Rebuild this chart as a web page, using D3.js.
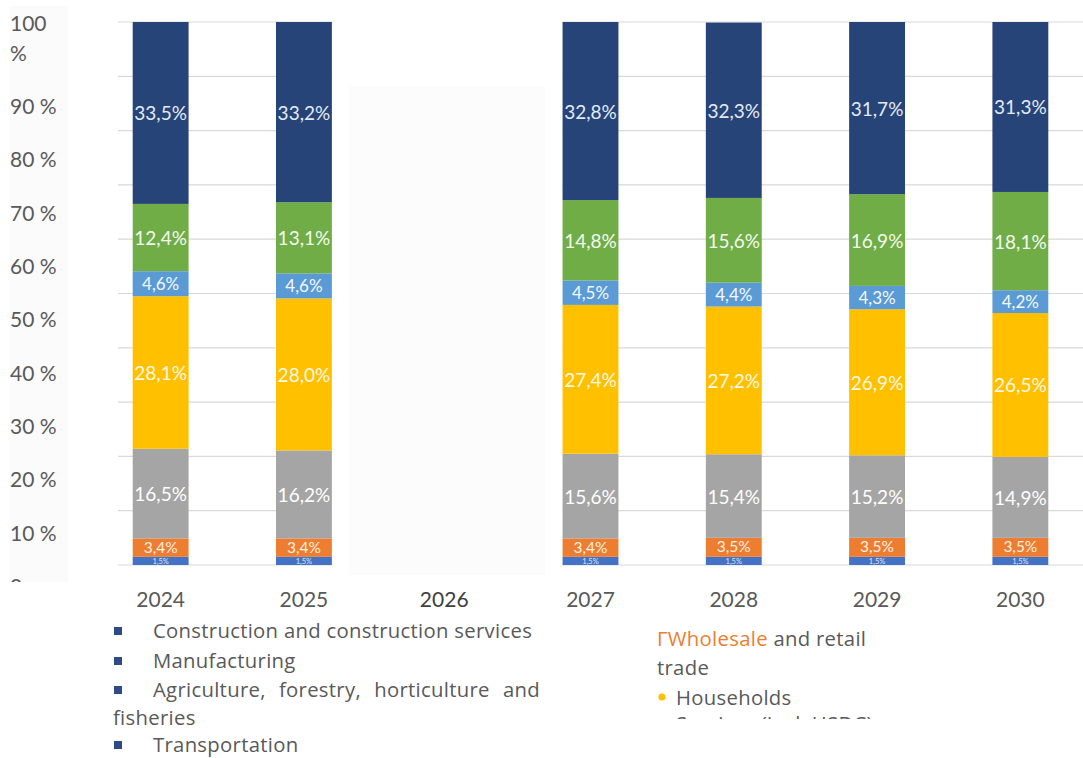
<!DOCTYPE html>
<html>
<head>
<meta charset="utf-8">
<script src="https://cdn.jsdelivr.net/npm/d3@7"></script>
<style>
  html, body { margin: 0; padding: 0; background: #ffffff; }
  svg { display: block; }
</style>
</head>
<body>
<svg id="chart" width="1083" height="758"></svg>
<script>
// Years on the category axis; 2026 is kept as an empty slot
const years = ["2024", "2025", "2026", "2027", "2028", "2029", "2030"];
const shownYears = ["2024", "2025", "2027", "2028", "2029", "2030"];

// Share of each sector per year (%), stacked bottom to top
const construction   = [1.5, 1.5, 1.5, 1.5, 1.5, 1.5];
const manufacturing  = [3.4, 3.4, 3.4, 3.5, 3.5, 3.5];
const agriculture    = [16.5, 16.2, 15.6, 15.4, 15.2, 14.9];
const transportation = [28.1, 28.0, 27.4, 27.2, 26.9, 26.5];
const wholesale      = [4.6, 4.6, 4.5, 4.4, 4.3, 4.2];
const households     = [12.4, 13.1, 14.8, 15.6, 16.9, 18.1];
const services       = [33.5, 33.2, 32.8, 32.3, 31.7, 31.3];

const yTicks = [0, 10, 20, 30, 40, 50, 60, 70, 80, 90, 100];

const seriesNames = ["construction", "manufacturing", "agriculture", "transportation",
                     "wholesale", "households", "services"];
const seriesValues = [construction, manufacturing, agriculture, transportation,
                      wholesale, households, services];
const seriesColors = ["#4472c4", "#ed7d31", "#a5a5a5", "#ffc000", "#5b9bd5", "#70ad47", "#264478"];
const labelColors  = ["#dce6f7", "#fff1e0", "#ffffff", "#fff8e6", "#f4f8fc", "#f4faf0", "#e4ebf5"];
const labelSizes   = [7.5, 15.5, 19, 19, 17, 19, 19];
const labelShift   = [1, -1, 0, 0, 0, 0, 0];

const rows = shownYears.map((yr, i) => {
  const r = { year: yr };
  seriesNames.forEach((k, j) => r[k] = seriesValues[j][i]);
  return r;
});
const stacked = d3.stack().keys(seriesNames)(rows);

const svg = d3.select("#chart");
const fontMain = "Lato, 'Open Sans', sans-serif";
const fontLegend = "'Open Sans', sans-serif";

const x = d3.scaleBand().domain(years).range([89, 1092]).paddingInner(0.61).paddingOuter(0.305);
const y = d3.scaleLinear().domain([0, 100]).range([565, 22]);
// the value labels of the axis sit in their own column, offset from the grid
const yLab = d3.scaleLinear().domain([0, 100]).range([585.5, 52]);

// horizontal grid
svg.append("g").selectAll("line").data(yTicks).join("line")
  .attr("x1", 118).attr("x2", 1083)
  .attr("y1", d => y(d)).attr("y2", d => y(d))
  .attr("stroke", "#d9d9d9").attr("stroke-width", 1.2);

// gap around the 2026 slot
svg.append("rect").attr("x", x("2025") + x.bandwidth()).attr("y", 0)
  .attr("width", x("2027") - x("2025") - x.bandwidth()).attr("height", 580)
  .attr("fill", "#ffffff");
svg.append("rect").attr("x", 349).attr("y", 86).attr("width", 196).attr("height", 489)
  .attr("fill", "#fcfcfc");

// stacked bars
const layers = svg.append("g").selectAll("g").data(stacked).join("g")
  .attr("fill", (d, i) => seriesColors[i]);
layers.selectAll("rect").data(d => d).join("rect")
  .attr("x", d => x(d.data.year))
  .attr("width", x.bandwidth())
  .attr("y", d => y(d[1]))
  .attr("height", d => y(d[0]) - y(d[1]));

// value labels
const fmt = v => v.toFixed(1).replace(".", ",") + "%";
const labelLayers = svg.append("g").selectAll("g").data(stacked).join("g");
labelLayers.each(function(layer, i) {
  d3.select(this).selectAll("text").data(layer).join("text")
    .attr("x", d => x(d.data.year) + x.bandwidth() / 2)
    .attr("y", d => (y(d[0]) + y(d[1])) / 2 + labelShift[i])
    .attr("text-anchor", "middle")
    .attr("dominant-baseline", "central")
    .attr("font-family", fontMain)
    .attr("font-size", labelSizes[i])
    .attr("fill", labelColors[i])
    .text(d => fmt(d[1] - d[0]));
});

// value axis column
const defs = svg.append("defs");
defs.append("clipPath").attr("id", "axisClip")
  .append("rect").attr("x", 0).attr("y", 0).attr("width", 100).attr("height", 582);
const axisG = svg.append("g").attr("clip-path", "url(#axisClip)");
axisG.append("rect").attr("x", 10).attr("y", 6).attr("width", 58).attr("height", 576)
  .attr("fill", "#fbfbfb");
yTicks.forEach(t => {
  const txt = axisG.append("text")
    .attr("x", 10).attr("y", yLab(t))
    .attr("dominant-baseline", "central")
    .attr("font-family", fontMain).attr("font-size", 21).attr("fill", "#595959");
  if (t === 100) {
    txt.text("%");
    axisG.append("text").attr("x", 10).attr("y", yLab(t) - 30)
      .attr("dominant-baseline", "central")
      .attr("font-family", fontMain).attr("font-size", 21).attr("fill", "#595959")
      .text("100");
  } else if (t === 0) {
    txt.text("0");
  } else {
    txt.text(t + " %");
  }
});

// category labels
svg.append("g").selectAll("text").data(years).join("text")
  .attr("x", d => x(d) + x.bandwidth() / 2 - (d === "2026" ? 3 : 0))
  .attr("y", 598)
  .attr("text-anchor", "middle")
  .attr("dominant-baseline", "central")
  .attr("font-family", fontMain).attr("font-size", 21)
  .attr("fill", d => d === "2026" ? "#404040" : "#595959")
  .text(d => d);

// legend, left column
const legLeft = svg.append("g").attr("font-family", fontLegend).attr("font-size", 20.3)
  .attr("letter-spacing", 0.3).attr("fill", "#595959");
const leftItems = [
  { y: 630, text: "Construction and construction services", marker: true },
  { y: 660, text: "Manufacturing", marker: true },
  { y: 689, text: "Agriculture, forestry, horticulture and", marker: true, justify: 540 },
  { y: 717, text: "fisheries", marker: false },
  { y: 744, text: "Transportation", marker: true }
];
leftItems.forEach(it => {
  if (it.marker) {
    legLeft.append("rect").attr("x", 114).attr("y", it.y - 3).attr("width", 8).attr("height", 8)
      .attr("fill", "#2f4b87");
  }
  const x0 = it.marker ? 153 : 113;
  if (it.justify) {
    const words = it.text.split(" ");
    const nodes = words.map(w => legLeft.append("text").attr("y", it.y)
      .attr("dominant-baseline", "central").text(w));
    const widths = nodes.map(n => n.node().getComputedTextLength());
    const gap = (it.justify - x0 - d3.sum(widths)) / (words.length - 1);
    let cx = x0;
    nodes.forEach((n, k) => { n.attr("x", cx); cx += widths[k] + gap; });
  } else {
    legLeft.append("text").attr("x", x0).attr("y", it.y)
      .attr("dominant-baseline", "central").text(it.text);
  }
});

// legend, right column (last entry cut off at the bottom)
defs.append("clipPath").attr("id", "legClip")
  .append("rect").attr("x", 600).attr("y", 600).attr("width", 400).attr("height", 119);
const legRight = svg.append("g").attr("clip-path", "url(#legClip)")
  .attr("font-family", fontLegend).attr("font-size", 20.3).attr("letter-spacing", 0.3)
  .attr("fill", "#595959");
const t1 = legRight.append("text").attr("x", 657).attr("y", 638).attr("dominant-baseline", "central");
t1.append("tspan").attr("fill", "#ed7d31").text("\u0393Wholesale");
t1.append("tspan").text(" and retail");
legRight.append("text").attr("x", 657).attr("y", 667).attr("dominant-baseline", "central").text("trade");
legRight.append("circle").attr("cx", 662).attr("cy", 697).attr("r", 3.6).attr("fill", "#ffc000");
legRight.append("text").attr("x", 676).attr("y", 697).attr("dominant-baseline", "central").text("Households");
legRight.append("circle").attr("cx", 662).attr("cy", 724).attr("r", 3.6).attr("fill", "#264478");
legRight.append("text").attr("x", 676).attr("y", 723).attr("dominant-baseline", "central").text("Services (incl. HSDC)");
</script>
</body>
</html>
